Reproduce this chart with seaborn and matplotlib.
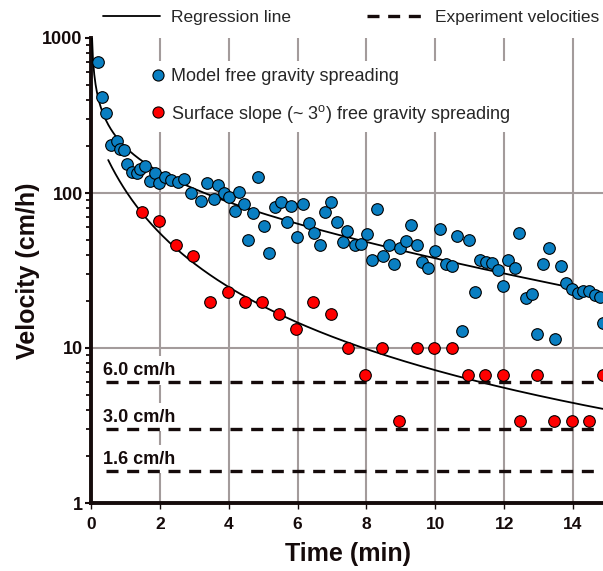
import numpy as np
import matplotlib
matplotlib.use('Agg')
import matplotlib.pyplot as plt
import seaborn as sns
from matplotlib.lines import Line2D
from matplotlib.ticker import FixedLocator, FixedFormatter, LogLocator, NullFormatter

# model free gravity spreading (blue)
blue_t = [0.19, 0.33, 0.45, 0.59, 0.75, 0.83, 0.97, 1.06, 1.18, 1.33, 1.42, 1.57,
          1.72, 1.85, 1.98, 2.15, 2.32, 2.53, 2.70, 2.91, 3.19, 3.37, 3.56, 3.70,
          3.85, 4.01, 4.18, 4.31, 4.45, 4.56, 4.71, 4.85, 5.03, 5.18, 5.34, 5.51,
          5.68, 5.82, 5.98, 6.16, 6.34, 6.49, 6.64, 6.81, 6.97, 7.15, 7.32, 7.44,
          7.66, 7.83, 8.01, 8.17, 8.31, 8.47, 8.65, 8.80, 8.97, 9.14, 9.29, 9.46,
          9.62, 9.78, 9.98, 10.15, 10.31, 10.49, 10.63, 10.77, 10.98, 11.14, 11.30,
          11.46, 11.64, 11.81, 11.98, 12.12, 12.31, 12.44, 12.63, 12.80, 12.96,
          13.13, 13.31, 13.48, 13.65, 13.80, 13.96, 14.13, 14.29, 14.46, 14.63,
          14.79, 14.87]
blue_v = [700, 414, 330, 205, 216, 192, 189, 153, 136, 135, 143, 149,
          120, 135, 116, 127, 121, 117, 123, 100, 89, 116, 91, 112,
          100, 94, 77, 102, 85, 50, 74, 127, 61, 41, 81, 87,
          65, 82, 52, 85, 64, 55, 46, 75, 87, 65, 48, 57,
          46, 47, 54, 37, 79, 39, 46, 35, 44, 49, 62, 46,
          36, 33, 42, 59, 35, 34, 53, 12.8, 50, 23, 37,
          36, 35.5, 32, 25, 37, 33, 55, 21, 22.4, 12.3,
          35, 44, 11.5, 34, 26.4, 24, 22.7, 23.4, 23.4, 22,
          21.4, 14.6]

# surface slope (~3 deg) free gravity spreading (red)
red_t = [1.47, 1.98, 2.47, 2.96, 3.47, 3.97, 4.47, 4.98, 5.47, 5.96, 6.46, 6.97,
         7.47, 7.97, 8.46, 8.95, 9.47, 9.97, 10.47, 10.96, 11.45, 11.96, 12.46,
         12.96, 13.46, 13.96, 14.46, 14.87]
red_v = [75, 66, 46, 39, 19.8, 23, 19.8, 19.8, 16.5, 13.3, 19.8, 16.5,
         10, 6.67, 10, 3.37, 10, 10, 10, 6.67, 6.67, 6.67, 3.37,
         6.67, 3.37, 3.37, 3.37, 6.67]

exp_vel = [6.0, 3.0, 1.6]
exp_labels = ['6.0 cm/h', '3.0 cm/h', '1.6 cm/h']
x_ticks = [0, 2, 4, 6, 8, 10, 12, 14]
y_ticks = [1, 10, 100, 1000]
y_grid = [10, 100]

BLUE = '#0a7fc2'
RED = '#ff0000'
GRID = '#a39b9b'
INK = '#150b0b'


def fit_blue(t, v, t_new):
    """Least squares fit of log10(v) = a + b*log10(t) + c*t."""
    t = np.asarray(t, float)
    v = np.asarray(v, float)
    A = np.column_stack([np.ones_like(t), np.log10(t), t])
    coef, *_ = np.linalg.lstsq(A, np.log10(v), rcond=None)
    B = np.column_stack([np.ones_like(t_new), np.log10(t_new), t_new])
    return 10 ** (B @ coef)


def fit_red(t, v, t_new):
    """Least squares fit of log10(v) = a + b*log10(t + 1)."""
    t = np.asarray(t, float)
    v = np.asarray(v, float)
    b, a = np.polyfit(np.log10(t + 1), np.log10(v), 1)
    return 10 ** (a + b * np.log10(t_new + 1))


sns.set_style('white')
plt.rcParams['font.family'] = ['Liberation Sans', 'DejaVu Sans']
plt.rcParams['mathtext.fontset'] = 'custom'
plt.rcParams['mathtext.rm'] = 'Liberation Sans'

fig = plt.figure(figsize=(6.03, 5.71), dpi=100)
ax = fig.add_axes([91 / 603, 68 / 571, 512 / 603, 465 / 571])

ax.set_yscale('log')
ax.set_xlim(0, 14.87)
ax.set_ylim(1, 1000)

# grid
for xv in x_ticks[1:]:
    ax.axvline(xv, color=GRID, lw=1.5, zorder=0)
for yv in y_grid:
    ax.axhline(yv, color=GRID, lw=1.5, zorder=0)

# regression lines
tb = np.linspace(0.02, 14.87, 400)
tr = np.linspace(0.5, 14.87, 400)
sns.lineplot(x=tb, y=fit_blue(blue_t, blue_v, tb), ax=ax, color='black',
             lw=1.3, sort=False, estimator=None, zorder=3)
sns.lineplot(x=tr, y=fit_red(red_t, red_v, tr), ax=ax, color='black',
             lw=1.3, sort=False, estimator=None, zorder=3)

# experiment velocities
dash = (0, (3.6, 2.6))
ax.hlines(exp_vel, 0.43, 14.6, colors=INK, lw=2.4, linestyles=[dash], zorder=3)
for v, lab in zip(exp_vel, exp_labels):
    ax.annotate(lab, (0.35, v), xytext=(0, 2.5), textcoords='offset points',
                fontsize=13, fontweight='bold', va='bottom', ha='left', color=INK,
                bbox=dict(facecolor='white', edgecolor='none', pad=4), zorder=2)

# data points
sns.scatterplot(x=blue_t, y=blue_v, ax=ax, color=BLUE, edgecolor='black',
                linewidth=0.8, s=70, zorder=4, legend=False)
sns.scatterplot(x=red_t, y=red_v, ax=ax, color=RED, edgecolor='black',
                linewidth=0.8, s=70, zorder=4, legend=False)

# axes styling
for side in ['top', 'right']:
    ax.spines[side].set_visible(False)
for side in ['left', 'bottom']:
    ax.spines[side].set_linewidth(2.8)
    ax.spines[side].set_color(INK)

ax.xaxis.set_major_locator(FixedLocator(x_ticks))
ax.yaxis.set_major_locator(FixedLocator(y_ticks))
ax.yaxis.set_major_formatter(FixedFormatter([str(v) for v in y_ticks]))
ax.yaxis.set_minor_locator(LogLocator(base=10, subs=np.arange(2, 10)))
ax.yaxis.set_minor_formatter(NullFormatter())
ax.tick_params(axis='y', which='major', length=4, width=1.5, pad=2,
               labelsize=13, colors=INK, left=True)
ax.tick_params(axis='y', which='minor', length=3.5, width=1.3, left=True,
               colors=INK)
ax.tick_params(axis='x', which='major', length=4, width=1.0, pad=6,
               labelsize=12.5, colors=INK, bottom=True)
for lab in ax.get_xticklabels() + ax.get_yticklabels():
    lab.set_fontweight('bold')

ax.set_xlabel('Time (min)', fontsize=18, fontweight='bold', color=INK)
ax.set_ylabel('Velocity (cm/h)', fontsize=18, fontweight='bold', color=INK)
ax.xaxis.set_label_coords(0.502, -0.083)
ax.yaxis.set_label_coords(-(91 - 40) / 512, 0.5)

# inner legend (data series)
data_handles = [
    Line2D([], [], marker='o', ls='', markersize=8, markerfacecolor=BLUE,
           markeredgecolor='black', markeredgewidth=0.8),
    Line2D([], [], marker='o', ls='', markersize=8, markerfacecolor=RED,
           markeredgecolor='black', markeredgewidth=0.8),
]
leg = ax.legend(data_handles,
                ['Model free gravity spreading',
                 'Surface slope (~ 3$^\\mathrm{o}$) free gravity spreading'],
                loc='upper left', bbox_to_anchor=(0.105, 0.95), fontsize=13,
                frameon=True, facecolor='white', edgecolor='none', framealpha=1,
                fancybox=False, labelspacing=0.95, handlelength=0.7,
                handletextpad=0.35, borderpad=0.4, borderaxespad=0)
leg.set_zorder(5)

# top legend (line types)
line_handles = [
    Line2D([], [], color='black', lw=1.3),
    Line2D([], [], color=INK, lw=2.4, ls=dash),
]
fig.legend(line_handles, ['Regression line', 'Experiment velocities'],
           loc='center left', bbox_to_anchor=(103 / 603, 1 - 17 / 571), ncol=2,
           frameon=False, fontsize=12.5, handlelength=3.28, handletextpad=0.63,
           columnspacing=4.4, borderpad=0, borderaxespad=0)

fig.savefig('out.png', dpi=100)
plt.close(fig)
